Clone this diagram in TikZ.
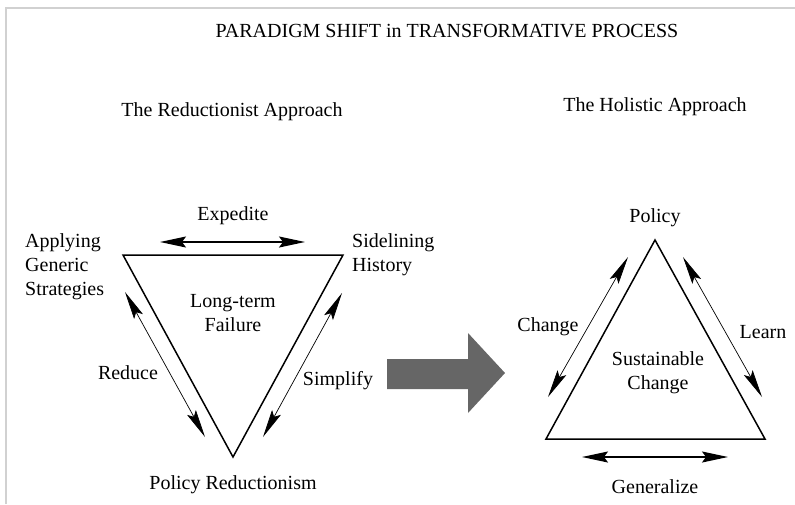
\documentclass[tikz,border=0pt]{standalone}
\usepackage{fontspec}
\setmainfont{Liberation Serif}
\usetikzlibrary{arrows.meta, positioning}

\begin{document}
\begin{tikzpicture}[x=1pt, y=-1pt,
  lbl/.style={font=\fontsize{20}{24}\selectfont, inner sep=0pt},
  side/.style={arrows={Stealth[length=28pt, width=10pt, inset=5pt]-Stealth[length=28pt, width=10pt, inset=5pt]}, line width=0.7pt},
  base/.style={arrows={Stealth[length=26pt, width=11pt, inset=4pt]-Stealth[length=26pt, width=11pt, inset=4pt]}, line width=1.3pt},
  tri/.style={draw, line width=1.5pt, line join=miter}]
  \useasboundingbox (0,0) rectangle (795,504);
  % frame
  \draw[black!18, line width=2pt] (6,504) -- (6,8) -- (795,8);

  % headings
  \node[lbl] (title) at (447,31) {PARADIGM SHIFT in TRANSFORMATIVE PROCESS};
  \node[lbl] (redhead) at (232,112) {The Reductionist Approach};
  \node[lbl] (holhead) at (655,107) {The Holistic Approach};

  % reductionist triangle
  \coordinate (r1) at (123,255);
  \coordinate (r2) at (343,255);
  \coordinate (r3) at (233,457);
  \draw[tri] (r1) -- (r2) -- (r3) -- cycle;

  \coordinate (e1) at (160,242);
  \coordinate (e2) at (305,242);
  \coordinate (d1) at (125,292);
  \coordinate (d2) at (205,437);
  \coordinate (s1) at (342,293);
  \coordinate (s2) at (263,437);
  \draw[base] (e1) -- (e2);
  \draw[side] (d1) -- (d2);
  \draw[side] (s1) -- (s2);

  \node[lbl] (expedite) at (233,216) {Expedite};
  \node[lbl, align=left, anchor=north west] (apply) at (25,233) {Applying\\Generic\\Strategies};
  \node[lbl, align=left, anchor=north west] (sideline) at (352,233) {Sidelining\\History};
  \node[lbl, align=center] (failure) at (233,313) {Long-term\\Failure};
  \node[lbl] (reduce) at (128,373) {Reduce};
  \node[lbl] (simplify) at (338,381) {Simplify};
  \node[lbl] (polred) at (233,485) {Policy Reductionism};

  % shift arrow
  \fill[black!60] (387,359) -- (468,359) -- (468,333) -- (505,373) -- (468,413) -- (468,389) -- (387,389) -- cycle;

  % holistic triangle
  \coordinate (h1) at (655,240);
  \coordinate (h2) at (765,439);
  \coordinate (h3) at (546,439);
  \draw[tri] (h1) -- (h2) -- (h3) -- cycle;

  \coordinate (c1) at (628,257);
  \coordinate (c2) at (548,397);
  \coordinate (l1) at (683,257);
  \coordinate (l2) at (762,397);
  \coordinate (g1) at (582,457);
  \coordinate (g2) at (728,457);
  \draw[side] (c1) -- (c2);
  \draw[side] (l1) -- (l2);
  \draw[base] (g1) -- (g2);

  \node[lbl] (policy) at (655,218) {Policy};
  \node[lbl] (change) at (548,327) {Change};
  \node[lbl] (learn) at (763,332) {Learn};
  \node[lbl, align=center] (sustain) at (658,373) {Sustainable\\Change};
  \node[lbl] (general) at (655,487) {Generalize};
\end{tikzpicture}
\end{document}
